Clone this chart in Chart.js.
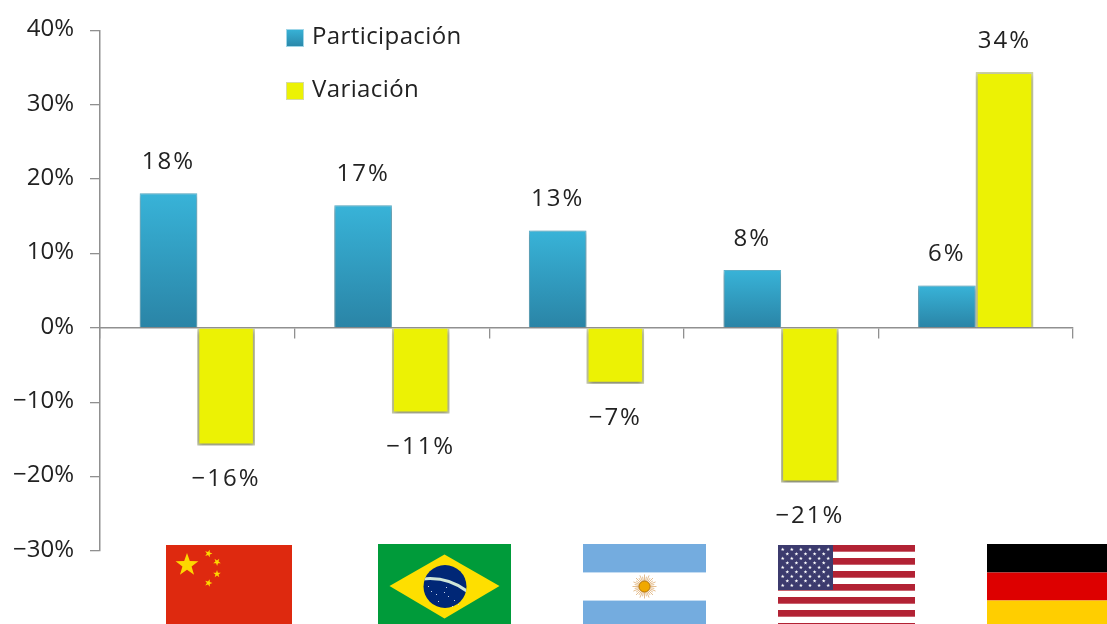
<!DOCTYPE html>
<html><head><meta charset="utf-8">
<script src="https://cdn.jsdelivr.net/npm/chart.js@4"></script>
<style>html,body{margin:0;padding:0;background:#fff}#w{width:1107px;height:624px;position:relative}</style>
</head><body><div id="w"><canvas id="c" width="1107" height="624"></canvas></div>
<script>
const categories = ["China","Brasil","Argentina","Estados Unidos","Alemania"];
const participacion = [18.1, 16.5, 13.1, 7.8, 5.7];
const variacion = [-15.8, -11.5, -7.5, -20.8, 34.4];
const participacionLabels = ["18%","17%","13%","8%","6%"];
const variacionLabels = ["−16%","−11%","−7%","−21%","34%"];
const FONT = '"Open Sans"';
const TEXT = '#222';

function star(ctx,cx,cy,r,rot){
  ctx.beginPath();
  for(let i=0;i<10;i++){
    const a=rot-Math.PI/2+i*Math.PI/5, q=i%2?r*0.4:r;
    ctx[i?'lineTo':'moveTo'](cx+q*Math.cos(a),cy+q*Math.sin(a));
  }
  ctx.closePath();ctx.fill();
}
function rect(ctx,c,x,y,w,h){ctx.fillStyle=c;ctx.fillRect(x,y,w,h);}
const flagDrawers = [
  (ctx)=>{ rect(ctx,'#de290f',166,545,126,79);
    ctx.fillStyle='#fdd800';
    star(ctx,187,565,12,0);
    star(ctx,208.5,553.5,4,0.3);star(ctx,217,562,4,0.6);star(ctx,217,574,4,0);star(ctx,208.5,583,4,0.3);
  },
  (ctx)=>{ rect(ctx,'#009b3a',378,544,133,80);
    ctx.fillStyle='#fedf00';ctx.beginPath();ctx.moveTo(444.5,554.5);ctx.lineTo(499.5,586);ctx.lineTo(444.5,618.5);ctx.lineTo(389.5,586);ctx.closePath();ctx.fill();
    ctx.fillStyle='#002776';ctx.beginPath();ctx.arc(445,586.5,21.5,0,Math.PI*2);ctx.fill();
    ctx.save();ctx.beginPath();ctx.arc(445,586.5,21.5,0,Math.PI*2);ctx.clip();
    ctx.strokeStyle='#cfe6d8';ctx.lineWidth=3;ctx.beginPath();ctx.moveTo(422,579);ctx.quadraticCurveTo(448,576,468,592);ctx.stroke();ctx.restore();
    ctx.fillStyle='#c8d4e8';
    [[431,591],[436,594],[444,592],[448,596],[454,600],[438,601],[452,606],[458,604],[446,587],[428,586]].forEach(p=>ctx.fillRect(p[0],p[1],1,1));
  },
  (ctx)=>{ rect(ctx,'#74acdf',583,544,123,80); rect(ctx,'#ffffff',583,572.5,123,28);
    rect(ctx,'#c4dcf2',583,572,123,1); rect(ctx,'#c4dcf2',583,600,123,1);
    ctx.strokeStyle='rgba(205,135,50,0.55)';ctx.lineWidth=1;
    for(let i=0;i<32;i++){const a=i*Math.PI/16, r=i%2?10:12;
      ctx.beginPath();ctx.moveTo(644.5+4*Math.cos(a),586.5+4*Math.sin(a));ctx.lineTo(644.5+r*Math.cos(a),586.5+r*Math.sin(a));ctx.stroke();}
    ctx.fillStyle='#f0a800';ctx.beginPath();ctx.arc(644.5,586.5,5.5,0,Math.PI*2);ctx.fill();
    ctx.strokeStyle='#b87a10';ctx.lineWidth=1;ctx.stroke();
  },
  (ctx)=>{ const x=778,w=137,top=545;
    rect(ctx,'#ffffff',x,top,w,79);
    for(let i=0;i<7;i++){ rect(ctx,'#b22234',x,top+i*13,w,6.7); }
    rect(ctx,'#3c3b6e',x,top,55,45);
    ctx.fillStyle='#ffffff';
    for(let r=0;r<9;r++){ const odd=r%2, n=odd?5:6;
      for(let c=0;c<n;c++){ star(ctx,x+4.7+(odd?4.6:0)+c*9.1,top+4.5+r*4.5,2,0); }
    }
  },
  (ctx)=>{ rect(ctx,'#000000',987,544,120,28.5); rect(ctx,'#dd0000',987,572.5,120,28); rect(ctx,'#ffce00',987,600.5,120,23.5); }
];

const shadowPlugin = {
  id:'barShadow',
  beforeDatasetDraw(chart){const c=chart.ctx;c.save();c.shadowColor='rgba(50,50,50,0.6)';c.shadowBlur=5;c.shadowOffsetX=0;c.shadowOffsetY=2;},
  afterDatasetDraw(chart){chart.ctx.restore();}
};
const overlayPlugin = {
  id:'overlay',
  afterDraw(chart){
    const ctx=chart.ctx;
    ctx.save();
    ctx.font='24px '+FONT;ctx.fillStyle=TEXT;ctx.textAlign='center';ctx.textBaseline='middle';
    ctx.letterSpacing='2px';
    const sets=[participacionLabels,variacionLabels];
    chart.data.datasets.forEach((ds,i)=>{
      chart.getDatasetMeta(i).data.forEach((bar,j)=>{
        const v=ds.data[j];
        ctx.fillText(sets[i][j],bar.x,bar.y+(v>=0?-31:34));
      });
    });
    const items=[{y:38,fill:'#33a3c8',edge:'#9fd6e8',ty:37},{y:91,fill:'#ecf204',edge:'#d6dba0',ty:90}];
    ctx.letterSpacing='0.4px';
    chart.data.datasets.forEach((ds,i)=>{
      const it=items[i];
      if(i===0){const g=ctx.createLinearGradient(0,it.y-9,0,it.y+9);g.addColorStop(0,'#38b3d8');g.addColorStop(1,'#2a86a8');ctx.fillStyle=g;}
      else ctx.fillStyle=it.fill;
      ctx.fillRect(286,it.y-9,18,18);
      ctx.strokeStyle=it.edge;ctx.lineWidth=1;ctx.strokeRect(286.5,it.y-8.5,17,17);
      ctx.fillStyle=TEXT;ctx.textAlign='left';ctx.font='24px '+FONT;
      ctx.fillText(ds.label,312,it.ty);
    });
    ctx.letterSpacing='0px';
    ctx.restore();
    flagDrawers.forEach(f=>{ctx.save();f(ctx);ctx.restore();});
  }
};
function blueFill(ctx){
  const ch=ctx.chart, v=ctx.raw, y=ch.scales.y;
  if(!y||v===undefined) return '#33a3c8';
  const a=y.getPixelForValue(v), b=y.getPixelForValue(0);
  if(!isFinite(a)||!isFinite(b)) return '#33a3c8';
  const g=ch.ctx.createLinearGradient(0,a,0,b);
  g.addColorStop(0,'#38b3d8');g.addColorStop(1,'#2a84a6');
  return g;
}
new Chart(document.getElementById('c'),{
  type:'bar',
  data:{labels:categories,datasets:[
    {label:'Participación',data:participacion,backgroundColor:blueFill,borderColor:'#5fb6d2',borderWidth:1,barPercentage:1,categoryPercentage:0.592},
    {label:'Variación',data:variacion,backgroundColor:'#ecf204',borderColor:'#cfd4a8',borderWidth:2,barPercentage:1,categoryPercentage:0.592}
  ]},
  options:{
    responsive:false,animation:false,
    layout:{padding:{left:0,right:34,top:29,bottom:73}},
    plugins:{legend:{display:false},tooltip:{enabled:false},title:{display:false}},
    scales:{
      x:{position:{y:0},grid:{drawOnChartArea:false,drawTicks:true,tickLength:10,color:'#909090',offset:true,lineWidth:1.3},
         border:{display:true,color:'#909090',width:1.5},ticks:{display:false}},
      y:{min:-30,max:40,afterFit(s){s.width=100;},
         grid:{drawOnChartArea:false,tickLength:10,color:'#909090',lineWidth:1.3},border:{color:'#909090',width:1.5},
         ticks:{stepSize:10,padding:16,labelOffset:-1,color:TEXT,font:{family:FONT,size:24},
           callback:v=>(v<0?'−'+(-v):v)+'%'}}
    }
  },
  plugins:[shadowPlugin,overlayPlugin]
});
</script></body></html>
